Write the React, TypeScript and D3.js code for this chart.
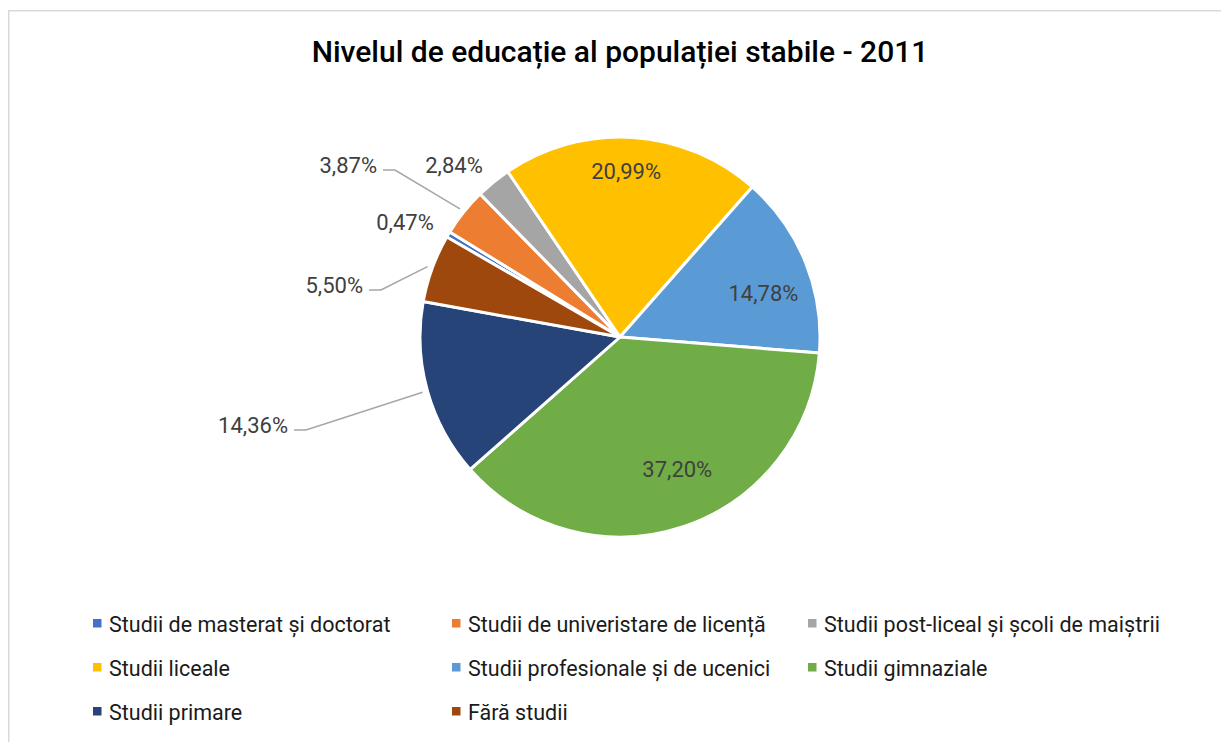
import React from "react";
import * as d3 from "d3";

const categories = [
  "Studii de masterat și doctorat",
  "Studii de univeristare de licență",
  "Studii post-liceal și școli de maiștrii",
  "Studii liceale",
  "Studii profesionale și de ucenici",
  "Studii gimnaziale",
  "Studii primare",
  "Fără studii",
];
const values = [0.47, 3.87, 2.84, 20.99, 14.78, 37.2, 14.36, 5.5];
const labels = ["0,47%", "3,87%", "2,84%", "20,99%", "14,78%", "37,20%", "14,36%", "5,50%"];
const colors = ["#4472C4", "#ED7D31", "#A5A5A5", "#FFC000", "#5B9BD5", "#70AD47", "#264478", "#9E480E"];

const title = "Nivelul de educație al populației stabile - 2011";

// layout
const W = 1221;
const H = 742;
const cx = 620;
const cy = 337;
const R = 200;
const startDeg = 300;
type LabelLayout =
  | { kind: "in"; rf: number; da: number }
  | { kind: "out"; anchor: "end" | "middle"; dx: number; dy: number; leader: boolean };
const labelLayout: LabelLayout[] = [
  { kind: "out", anchor: "middle", dx: -215, dy: -107, leader: false },
  { kind: "out", anchor: "end", dx: -243, dy: -164, leader: true },
  { kind: "out", anchor: "middle", dx: -166, dy: -164, leader: false },
  { kind: "in", rf: 0.83, da: -1.5 },
  { kind: "in", rf: 0.75, da: 5 },
  { kind: "in", rf: 0.72, da: -5 },
  { kind: "out", anchor: "end", dx: -332, dy: 96, leader: true },
  { kind: "out", anchor: "end", dx: -257, dy: -44, leader: true },
];

const legendCols = [93, 452, 808];
const legendRows = [632, 676, 720];

export default function App() {
  const pie = d3
    .pie<number>()
    .sort(null)
    .value((d) => d)
    .startAngle((startDeg * Math.PI) / 180)
    .endAngle(((startDeg + 360) * Math.PI) / 180);
  const arcs = pie(values);
  const arcGen = d3.arc<d3.PieArcDatum<number>>().innerRadius(0).outerRadius(R);

  const polar = (ang: number, r: number): [number, number] => [
    cx + r * Math.sin(ang),
    cy - r * Math.cos(ang),
  ];

  const font = "Roboto, 'Noto Sans', sans-serif";

  return (
    <svg
      width={W}
      height={H}
      style={{ position: "fixed", left: 0, top: 0, background: "#fff" }}
      fontFamily={font}
    >
      <rect x={0} y={0} width={W} height={H} fill="#fff" />
      <rect x={8.75} y={10.75} width={1300} height={800} fill="none" stroke="#D9D9D9" strokeWidth={1.5} />
      <text x={620} y={62} textAnchor="middle" fontSize={30} fontWeight={500} fill="#000">
        {title}
      </text>
      <g>
        {arcs.map((a, i) => (
          <path
            key={i}
            d={arcGen(a) || ""}
            transform={`translate(${cx},${cy})`}
            fill={colors[i]}
            stroke="#fff"
            strokeWidth={3}
            strokeLinejoin="round"
          />
        ))}
      </g>
      <g fontSize={22} fill="#404040">
        {arcs.map((a, i) => {
          const L = labelLayout[i];
          const mid = (a.startAngle + a.endAngle) / 2;
          if (L.kind === "in") {
            const [x, y] = polar(mid + (L.da * Math.PI) / 180, R * L.rf);
            return (
              <text key={i} x={x} y={y} textAnchor="middle" dominantBaseline="central">
                {labels[i]}
              </text>
            );
          }
          const tx = cx + L.dx;
          const ty = cy + L.dy;
          let leader = null;
          if (L.leader) {
            const [ex, ey] = polar(mid, R + 5);
            const lx = tx + 6;
            const ly = ty - 3;
            leader = (
              <polyline
                points={`${lx},${ly} ${lx + 12},${ly} ${ex},${ey}`}
                fill="none"
                stroke="#A6A6A6"
                strokeWidth={1.5}
              />
            );
          }
          return (
            <g key={i}>
              {leader}
              <text x={tx} y={ty} textAnchor={L.anchor}>
                {labels[i]}
              </text>
            </g>
          );
        })}
      </g>
      <g fontSize={21.5} fill="#1a1a1a">
        {categories.map((c, i) => {
          const col = i % 3;
          const row = Math.floor(i / 3);
          const x = legendCols[col];
          const y = legendRows[row];
          return (
            <g key={i}>
              <rect x={x} y={y - 13} width={8.5} height={8.5} fill={colors[i]} />
              <text x={x + 16} y={y}>
                {c}
              </text>
            </g>
          );
        })}
      </g>
    </svg>
  );
}
